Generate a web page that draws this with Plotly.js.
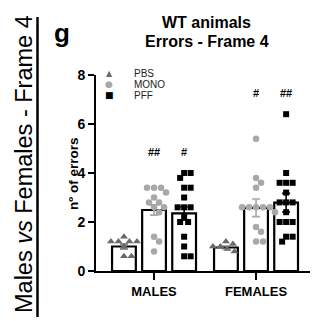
<!DOCTYPE html>
<html><head><meta charset="utf-8">
<script src="https://cdn.plot.ly/plotly-3.0.1.min.js"></script>
<style>html,body{margin:0;padding:0;background:#fff;}#chart{width:322px;height:321px;}</style>
</head><body><div id="chart"></div>
<script>
// ---- data ----
const groups = ['MALES', 'FEMALES'];
const seriesNames = ['PBS', 'MONO', 'PFF'];
const meansMales = [1.0, 2.49, 2.35];
const meansFemales = [0.96, 2.58, 2.79];
const semMales = [0.1, 0.21, 0.27];
const semFemales = [0.05, 0.36, 0.38];
const malesPBS = [1.4, 1.2, 1.2, 1.2, 1.2, 1.0, 0.6, 0.6];
const malesMONO = [3.4, 3.4, 3.4, 3.2, 3.0, 2.8, 2.8, 2.6, 2.6, 2.4, 1.4, 1.2, 0.8];
const malesPFF = [4.0, 4.0, 3.8, 3.4, 3.4, 3.0, 2.6, 2.6, 2.6, 2.2, 2.0, 2.0, 1.4, 1.0, 0.6, 0.6];
const femalesPBS = [1.2, 1.1, 1.0, 1.0, 0.9, 0.8];
const femalesMONO = [5.4, 3.8, 3.6, 3.4, 2.6, 2.6, 2.6, 2.6, 2.6, 2.4, 1.8, 1.6, 1.2, 1.2];
const femalesPFF = [6.4, 4.0, 3.6, 3.6, 3.6, 3.2, 2.8, 2.8, 2.8, 2.4, 2.0, 2.0, 2.0, 1.4, 1.4, 1.2];
const sigLabels = [['', '##', '#'], ['', '#', '##']];
const sigLevel = [4.85, 7.25];
const yTicks = [0, 2, 4, 6, 8];

// ---- styles ----
const FONT = 'Liberation Sans, Arial, Helvetica, sans-serif';
const colors = ['#6a6a6a', '#a8a8a8', '#000000'];
const symbols = ['triangle-up', 'circle', 'square'];
const msizes = [7, 6.5, 6];
const slot = 0.295;
const offsets = [-slot, 0, slot];
const W = 322, H = 321, ML = 96, MR = 12, MT = 75, MB = 50;
const plotW = W - ML - MR, plotH = H - MT - MB;
const xr = [-0.569, -0.569 + plotW / 102];
const yr = [0, 8];
const pxPerX = plotW / (xr[1] - xr[0]);
const pxPerY = plotH / (yr[1] - yr[0]);
const px2x = px => (px - ML) / plotW;
const py2y = py => (H - MB - py) / plotH;

const pointData = [[malesPBS, malesMONO, malesPFF], [femalesPBS, femalesMONO, femalesPFF]];
const means = [meansMales, meansFemales];
const sems = [semMales, semFemales];

// deterministic beeswarm offsets (in x units)
function swarm(vals, diam) {
  const placed = [];
  const out = [];
  vals.forEach(v => {
    const ypx = v * pxPerY;
    let chosen = 0;
    for (let k = 0; k < 200; k++) {
      const cands = k === 0 ? [0] : [k * 0.5, -k * 0.5];
      let ok = null;
      for (const c of cands) {
        if (placed.every(p => Math.hypot(p[0] - c, p[1] - ypx) >= diam)) { ok = c; break; }
      }
      if (ok !== null) { chosen = ok; break; }
    }
    placed.push([chosen, ypx]);
    out.push(chosen / pxPerX);
  });
  return out;
}

const traces = [];
// bars
seriesNames.forEach((name, s) => {
  traces.push({
    type: 'bar', x: groups.map((g, i) => i), y: groups.map((g, i) => means[i][s]),
    offsetgroup: String(s), showlegend: false,
    marker: {color: '#ffffff', line: {color: '#000', width: 2.2}},
    error_y: {type: 'data', array: groups.map((g, i) => sems[i][s]), visible: true,
      color: colors[s], thickness: 1.6, width: 4},
    hoverinfo: 'skip'
  });
});
// points
seriesNames.forEach((name, s) => {
  const xs = [], ys = [];
  groups.forEach((g, i) => {
    const vals = pointData[i][s];
    const off = swarm(vals, msizes[s] + 0.3);
    vals.forEach((v, j) => { xs.push(i + offsets[s] + off[j]); ys.push(v); });
  });
  traces.push({
    type: 'scatter', mode: 'markers', x: xs, y: ys, name: name, showlegend: false,
    marker: {symbol: symbols[s], size: msizes[s], color: colors[s], line: {width: 0}},
    cliponaxis: false
  });
});

const annotations = [];
annotations.push({xref: 'paper', yref: 'paper', x: px2x(206), y: py2y(22.5), text: '<b>WT animals</b>',
  showarrow: false, xanchor: 'center', yanchor: 'middle', font: {family: FONT, size: 16, color: '#000'}});
annotations.push({xref: 'paper', yref: 'paper', x: px2x(207), y: py2y(41.5), text: '<b>Errors - Frame 4</b>',
  showarrow: false, xanchor: 'center', yanchor: 'middle', font: {family: FONT, size: 16, color: '#000'}});
annotations.push({xref: 'paper', yref: 'paper', x: px2x(62), y: py2y(33), text: '<b>g</b>',
  showarrow: false, xanchor: 'center', yanchor: 'middle', font: {family: FONT, size: 26, color: '#000'}});
annotations.push({xref: 'paper', yref: 'paper', x: px2x(24), y: py2y(164), text: 'Males <i>vs</i> Females - Frame 4',
  showarrow: false, textangle: -90, xanchor: 'center', yanchor: 'middle', font: {family: FONT, size: 23.5, color: '#000'}});
annotations.push({xref: 'paper', yref: 'paper', x: px2x(73), y: py2y(174), text: '<b>nº of errors</b>',
  showarrow: false, textangle: -90, xanchor: 'center', yanchor: 'middle', font: {family: FONT, size: 13.5, color: '#000'}});
// legend
const legY = [73, 84, 95];
const legGlyph = ['▲', '●', '■'];
const legGlyphSize = [8, 9, 9];
seriesNames.forEach((name, s) => {
  annotations.push({xref: 'paper', yref: 'paper', x: px2x(109), y: py2y(legY[s]), text: legGlyph[s],
    showarrow: false, xanchor: 'center', yanchor: 'middle', borderpad: 0, font: {family: 'DejaVu Sans', size: legGlyphSize[s], color: colors[s]}});
  annotations.push({xref: 'paper', yref: 'paper', x: px2x(133), y: py2y(legY[s]), text: name,
    showarrow: false, xanchor: 'left', yanchor: 'middle', borderpad: 0, font: {family: FONT, size: 10, color: '#222'}});
});
// significance
groups.forEach((g, i) => {
  sigLabels[i].forEach((lab, s) => {
    if (!lab) return;
    annotations.push({x: i + offsets[s], y: sigLevel[i], text: '<b>' + lab + '</b>', showarrow: false,
      xanchor: 'center', yanchor: 'middle', font: {family: FONT, size: 11, color: '#000'}});
  });
});

const layout = {
  width: W, height: H, margin: {l: ML, r: MR, t: MT, b: MB, pad: 0},
  paper_bgcolor: '#fff', plot_bgcolor: '#fff',
  barmode: 'group', bargap: 0.115, bargroupgap: 0.21,
  showlegend: false,
  xaxis: {range: xr, tickmode: 'array', tickvals: groups.map((g, i) => i), ticktext: groups,
    showline: true, linecolor: '#000', linewidth: 2, ticks: 'outside', ticklen: 7, tickwidth: 2, tickcolor: '#000',
    showgrid: false, zeroline: false, fixedrange: true,
    tickfont: {family: FONT, size: 13, color: '#000', weight: 'bold'}},
  yaxis: {range: yr, tickmode: 'array', tickvals: yTicks, ticktext: yTicks.map(String),
    showline: true, linecolor: '#000', linewidth: 2, ticks: 'outside', ticklen: 6, tickwidth: 2, tickcolor: '#000',
    showgrid: false, zeroline: false, fixedrange: true,
    tickfont: {family: FONT, size: 14, color: '#000', weight: 'bold'}},
  annotations: annotations,
  shapes: [{type: 'line', xref: 'paper', yref: 'paper', x0: px2x(37.5), x1: px2x(37.5), y0: py2y(17), y1: py2y(317),
    line: {color: '#000', width: 2.5}}]
};

Plotly.newPlot('chart', traces, layout, {staticPlot: true, displayModeBar: false});
</script>
</body></html>
